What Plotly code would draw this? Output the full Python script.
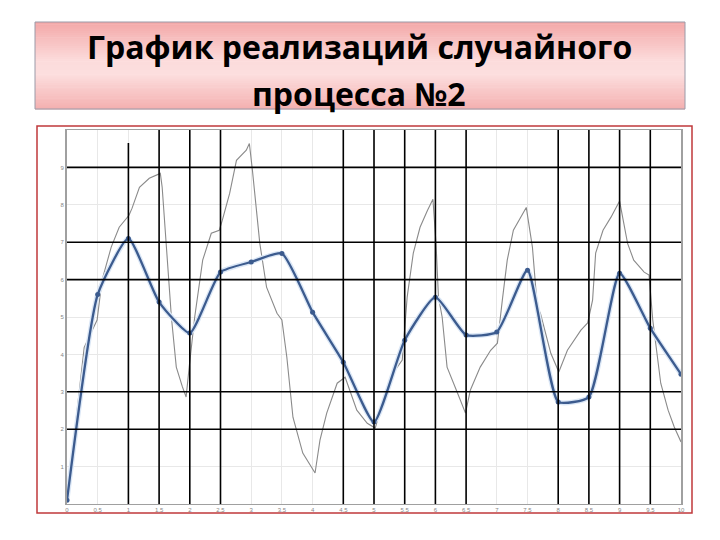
import plotly.graph_objects as go

# ---------------- data ----------------
blue_x = [0, 0.5, 1, 1.5, 2, 2.5, 3, 3.5, 4, 4.5, 5, 5.5, 6, 6.5, 7, 7.5, 8, 8.5, 9, 9.5, 10]
blue_y = [0.1, 5.6, 7.1, 5.4, 4.57, 6.2, 6.47, 6.7, 5.13, 3.79, 2.19, 4.38, 5.53, 4.52, 4.6, 6.25, 2.73, 2.86, 6.17, 4.7, 3.47]

gray_x = [0, 0.28, 0.49, 0.57, 0.72, 0.85, 1.01, 1.06, 1.18, 1.34, 1.52, 1.55, 1.70, 1.78, 1.88, 1.94,
          1.99, 2.08, 2.21, 2.35, 2.48, 2.53, 2.65, 2.76, 2.92, 2.97,
          3.02, 3.14, 3.25, 3.42, 3.50, 3.58, 3.68, 3.84, 4.04,
          4.12, 4.23, 4.40, 4.53, 4.72, 4.89, 5.02,
          5.15, 5.31, 5.46, 5.54, 5.64, 5.75, 5.87, 5.96,
          6.01, 6.05, 6.11, 6.19, 6.36, 6.49,
          6.57, 6.73, 6.90, 7.01, 7.09, 7.17, 7.27, 7.39, 7.48,
          7.58, 7.66, 7.71, 7.88, 8.01,
          8.15, 8.37, 8.48, 8.56, 8.61, 8.73, 8.86, 9.00,
          9.13, 9.23, 9.40, 9.48, 9.54, 9.67, 9.79, 9.89, 10.0]
gray_y = [0.1, 4.19, 4.92, 5.98, 6.87, 7.40, 7.72, 7.91, 8.47, 8.71, 8.84, 8.47, 5.0, 3.66, 3.13, 2.86,
          3.66, 5.0, 6.52, 7.24, 7.32, 7.59, 8.31, 9.19, 9.46, 9.64,
          8.92, 6.97, 5.80, 5.10, 4.92, 3.93, 2.32, 1.36, 0.83,
          1.71, 2.43, 3.23, 3.39, 2.51, 2.16, 2.03,
          2.78, 3.50, 3.85, 5.53, 6.71, 7.40, 7.85, 8.15,
          6.97, 5.53, 5.0, 3.66, 2.97, 2.43,
          3.05, 3.66, 4.11, 4.30, 5.45, 6.52, 7.32, 7.67, 7.93,
          6.87, 5.26, 5.10, 4.03, 3.53,
          4.11, 4.65, 4.84, 5.45, 6.71, 7.32, 7.67, 8.10,
          6.97, 6.52, 6.20, 6.12, 4.92, 3.23, 2.51, 2.06, 1.66]

x_tickvals = [0, 0.5, 1, 1.5, 2, 2.5, 3, 3.5, 4, 4.5, 5, 5.5, 6, 6.5, 7, 7.5, 8, 8.5, 9, 9.5, 10]
x_ticktext = ["0", "0,5", "1", "1,5", "2", "2,5", "3", "3,5", "4", "4,5", "5", "5,5",
              "6", "6,5", "7", "7,5", "8", "8,5", "9", "9,5", "10"]
y_tickvals = [1, 2, 3, 4, 5, 6, 7, 8, 9]
y_ticktext = ["1", "2", "3", "4", "5", "6", "7", "8", "9"]

black_vlines = [1, 1.5, 2, 2.5, 4.5, 5, 5.5, 6, 6.5, 8, 8.5, 9, 9.5]
black_hlines = [9, 7, 6, 3, 2]

title_lines = ["График реализаций случайного", "процесса №2"]

# ---------------- layout helpers ----------------
OFF = 8                      # page body margin added by the browser
W, H = 720 - OFF, 540 - OFF
L, R, T, B = 67, 681, 130, 504  # plot area in page pixels


def px(x):
    return (x - L) / (R - L)


def py(y):
    return (B - y) / (B - T)


fig = go.Figure()

fig.add_trace(go.Scatter(x=gray_x, y=gray_y, mode="lines",
                         line=dict(color="#8a8a8a", width=1.1), showlegend=False))
fig.add_trace(go.Scatter(x=blue_x, y=blue_y, mode="lines",
                         line=dict(color="#dbe7f6", width=5, shape="spline", smoothing=0.5),
                         showlegend=False, hoverinfo="skip"))
fig.add_trace(go.Scatter(x=blue_x, y=blue_y, mode="lines+markers",
                         line=dict(color="#3c5b8e", width=2.3, shape="spline", smoothing=0.5),
                         marker=dict(size=5, color="#3c5b8e"), showlegend=False))

shapes = []
# black drawn grid lines
for i, v in enumerate(black_vlines):
    shapes.append(dict(type="line", xref="x", yref="y", x0=v, x1=v,
                       y0=0, y1=(9.65 if i == 0 else 10),
                       line=dict(color="black", width=1.6), layer="above"))
for h in black_hlines:
    shapes.append(dict(type="line", xref="x", yref="y", x0=0, x1=10, y0=h, y1=h,
                       line=dict(color="black", width=1.6), layer="above"))

# red outer frame
shapes.append(dict(type="rect", xref="paper", yref="paper",
                   x0=px(37), x1=px(692), y0=py(513), y1=py(126),
                   line=dict(color="#c0393b", width=1.5), fillcolor="rgba(0,0,0,0)", layer="below"))

# title box with vertical gradient (bands)
tb_top, tb_bot, tb_l, tb_r = 22, 109, 35, 685
stops = [(0.0, (243, 168, 168)), (0.45, (252, 220, 220)), (0.6, (252, 222, 222)), (1.0, (244, 176, 176))]
nb = 40


def col_at(t):
    for (t0, c0), (t1, c1) in zip(stops[:-1], stops[1:]):
        if t0 <= t <= t1:
            f = (t - t0) / (t1 - t0) if t1 > t0 else 0
            c = [round(a + (b - a) * f) for a, b in zip(c0, c1)]
            return "rgb(%d,%d,%d)" % tuple(c)
    return "rgb(%d,%d,%d)" % stops[-1][1]


for k in range(nb):
    ya = tb_top + (tb_bot - tb_top) * k / nb
    yb = tb_top + (tb_bot - tb_top) * (k + 1) / nb + 0.6
    shapes.append(dict(type="rect", xref="paper", yref="paper",
                       x0=px(tb_l), x1=px(tb_r), y0=py(yb), y1=py(ya),
                       line=dict(width=0), fillcolor=col_at((k + 0.5) / nb), layer="below"))
shapes.append(dict(type="rect", xref="paper", yref="paper",
                   x0=px(tb_l), x1=px(tb_r), y0=py(tb_bot), y1=py(tb_top),
                   line=dict(color="#9a9aa8", width=1), fillcolor="rgba(0,0,0,0)", layer="below"))

annotations = [
    dict(text=title_lines[0], xref="paper", yref="paper", x=px(359), y=py(46),
         showarrow=False, xanchor="center", yanchor="middle",
         font=dict(family="Open Sans", size=32, color="black", weight="bold")),
    dict(text=title_lines[1], xref="paper", yref="paper", x=px(359), y=py(93),
         showarrow=False, xanchor="center", yanchor="middle",
         font=dict(family="Open Sans", size=32, color="black", weight="bold")),
]

fig.update_layout(
    width=W, height=H,
    margin=dict(l=L - OFF, r=720 - R, t=T - OFF, b=540 - B, autoexpand=False),
    paper_bgcolor="white", plot_bgcolor="white",
    shapes=shapes, annotations=annotations,
    xaxis=dict(range=[0, 10], tickvals=x_tickvals, ticktext=x_ticktext,
               showgrid=True, gridcolor="#e8e8e8", gridwidth=1, zeroline=False,
               showline=True, linecolor="#a0a0a0", linewidth=1, mirror=True,
               tickfont=dict(size=6, color="#888888", family="Arial"), ticks=""),
    yaxis=dict(range=[0, 10], tickvals=y_tickvals, ticktext=y_ticktext,
               showgrid=True, gridcolor="#e8e8e8", gridwidth=1, zeroline=False,
               showline=True, linecolor="#a0a0a0", linewidth=2, mirror=True,
               tickfont=dict(size=6, color="#888888", family="Arial"), ticks=""),
    showlegend=False,
)
fig.update_yaxes(dtick=1)

fig.write_html("out.html")
